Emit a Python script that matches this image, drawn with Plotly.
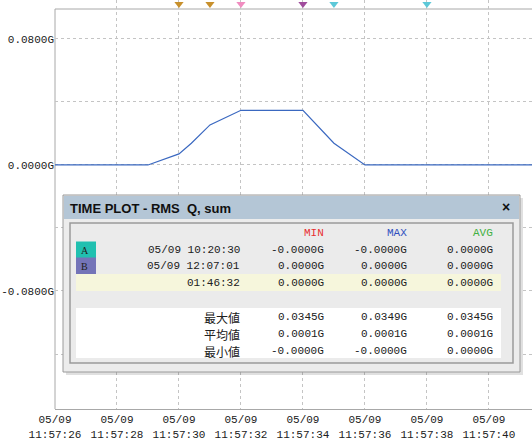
import plotly.graph_objects as go

# ---------------- data ----------------
times = ["2024-05-09 11:57:26", "2024-05-09 11:57:29", "2024-05-09 11:57:30",
         "2024-05-09 11:57:30.4", "2024-05-09 11:57:31", "2024-05-09 11:57:32",
         "2024-05-09 11:57:34", "2024-05-09 11:57:35", "2024-05-09 11:57:36",
         "2024-05-09 11:57:42"]
values = [0.0, 0.0, 0.007, 0.0138, 0.0254, 0.0347, 0.0347, 0.0138, 0.0, 0.0]

marker_times = ["2024-05-09 11:57:30", "2024-05-09 11:57:31", "2024-05-09 11:57:32",
                "2024-05-09 11:57:34", "2024-05-09 11:57:35", "2024-05-09 11:57:38"]
marker_colors = ["#c8902c", "#c8902c", "#f08cc0", "#a04c9c", "#5cc8d8", "#5cc8d8"]
marker_level = 0.1022

y_tickvals = [-0.16, -0.12, -0.08, -0.04, 0.0, 0.04, 0.08]
y_ticktext = ["", "", "-0.0800G", "", "0.0000G", "", "0.0800G"]

panel_title = "TIME PLOT - RMS\u00a0 Q, sum"
col_headers = ["MIN", "MAX", "AVG"]
col_colors = ["#e83030", "#3050c0", "#40b040"]
row_labels = ["05/09 10:20:30", "05/09 12:07:01", "01:46:32"]
row_values = [["-0.0000G", "-0.0000G", "0.0000G"],
              ["0.0000G", "0.0000G", "0.0000G"],
              ["0.0000G", "0.0000G", "0.0000G"]]
stat_labels = ["最大値", "平均値", "最小値"]
stat_values = [["0.0345G", "0.0349G", "0.0345G"],
               ["0.0001G", "0.0001G", "0.0001G"],
               ["-0.0000G", "-0.0000G", "0.0000G"]]
cursor_names = ["A", "B"]
cursor_colors = ["#20c0b0", "#7474b8"]

# ---------------- layout helpers ----------------
W, H = 532, 439
L, T, R, B = 55, 0, 532, 409     # plot area (screen px); frame top drawn at y=9
FRAME_TOP = 9
AXIS_COLOR = "#a8a8a8"


def px(x):
    return (x - L) / (R - L)


def py(y):
    return (B - y) / (B - T)


MONO = "Liberation Mono, Noto Sans CJK JP, monospace"

fig = go.Figure()
fig.add_trace(go.Scatter(x=times, y=values, mode="lines",
                         line=dict(color="#3a68c0", width=1.2),
                         showlegend=False, hoverinfo="skip"))
fig.add_trace(go.Scatter(x=marker_times, y=[marker_level] * len(marker_times), mode="markers",
                         marker=dict(symbol="triangle-down", size=8, color=marker_colors,
                                     line=dict(width=0)),
                         cliponaxis=False, showlegend=False, hoverinfo="skip"))

shapes = []
annotations = []

# strip above the frame: hide gridlines there, then draw frame lines
shapes.append(dict(type="rect", xref="paper", yref="paper", x0=0, x1=1,
                   y0=py(FRAME_TOP), y1=1, fillcolor="white", layer="between",
                   line=dict(width=0)))
shapes.append(dict(type="line", xref="paper", yref="paper", x0=0, x1=1,
                   y0=py(FRAME_TOP), y1=py(FRAME_TOP), layer="between",
                   line=dict(color=AXIS_COLOR, width=1)))
shapes.append(dict(type="line", xref="paper", yref="paper", x0=0, x1=0,
                   y0=0, y1=py(FRAME_TOP), layer="between",
                   line=dict(color=AXIS_COLOR, width=1)))


def rect(x0, y0, x1, y1, fill, line_color=None, lw=1):
    shapes.append(dict(type="rect", xref="paper", yref="paper",
                       x0=px(x0), x1=px(x1), y0=py(y1), y1=py(y0),
                       fillcolor=fill, layer="above",
                       line=dict(color=line_color or fill, width=lw if line_color else 0)))


def text(x, y, s, color="#202020", size=11, anchor="right", family=MONO, bold=False):
    if bold:
        s = "<b>" + s + "</b>"
    annotations.append(dict(xref="paper", yref="paper", x=px(x), y=py(y), text=s,
                            showarrow=False, xanchor=anchor, yanchor="middle",
                            font=dict(family=family, size=size, color=color)))


# panel shadow + frame
rect(66, 198, 523, 375, "rgba(0,0,0,0.12)")
rect(63, 195, 520, 372, "#ececec", "#9a9a9a", 1)
rect(64, 196, 519, 219, "#b4c6d6")
text(68, 208, panel_title, color="#101010", size=13, anchor="left",
     family="Liberation Sans, Arial, sans-serif", bold=True)
text(512, 207, "×", color="#101010", size=14, anchor="right",
     family="Liberation Sans, Arial, sans-serif", bold=True)
# inner area
rect(70, 223, 513, 363, "#ebebeb", "#9a9a9a", 1.5)
rect(76, 274, 501, 291, "#f6f6dc")
rect(76, 308, 501, 358, "#ffffff")

col_x = [326, 409, 495]
for cx, h, c in zip(col_x, col_headers, col_colors):
    text(cx, 233, h, color=c, size=11)

row_y = [250, 266, 283]
for i, (ry, lab, vals) in enumerate(zip(row_y, row_labels, row_values)):
    if i < len(cursor_names):
        rect(76, ry - 8.5, 96, ry + 8, cursor_colors[i])
        text(79, ry, cursor_names[i], size=10, anchor="left", family="Liberation Serif, serif")
    text(242, ry, lab)
    for cx, v in zip(col_x, vals):
        text(cx, ry, v)

stat_y = [317, 334, 351]
for sy, lab, vals in zip(stat_y, stat_labels, stat_values):
    text(242, sy, lab, size=12, family="Noto Sans CJK JP, sans-serif")
    for cx, v in zip(col_x, vals):
        text(cx, sy, v)

fig.update_layout(
    width=W, height=H,
    margin=dict(l=L, r=W - R, t=T, b=H - B, autoexpand=False),
    paper_bgcolor="white", plot_bgcolor="white",
    shapes=shapes, annotations=annotations,
    xaxis=dict(type="date", automargin=False,
               range=["2024-05-09 11:57:26", "2024-05-09 11:57:41.39"],
               tickvals=["2024-05-09 11:57:%02d" % s for s in range(26, 42, 2)],
               tickformat="%m/%d<br>%H:%M:%S",
               tickfont=dict(family=MONO, size=11, color="#202020"),
               showgrid=True, gridcolor="#c4c4c4", griddash="dot", gridwidth=1,
               showline=True, linecolor=AXIS_COLOR, linewidth=1, mirror=False,
               ticks="", ticklen=0, zeroline=False, fixedrange=True),
    yaxis=dict(range=[-0.1549, 0.1047], automargin=False,
               tickvals=y_tickvals, ticktext=y_ticktext,
               tickfont=dict(family=MONO, size=11, color="#202020"),
               showgrid=True, gridcolor="#c4c4c4", griddash="dot", gridwidth=1,
               showline=False,
               ticks="", ticklen=2, zeroline=False, fixedrange=True),
)

fig.write_html("out.html", config={"displayModeBar": False},
               post_script="document.body.style.margin='0px';")
